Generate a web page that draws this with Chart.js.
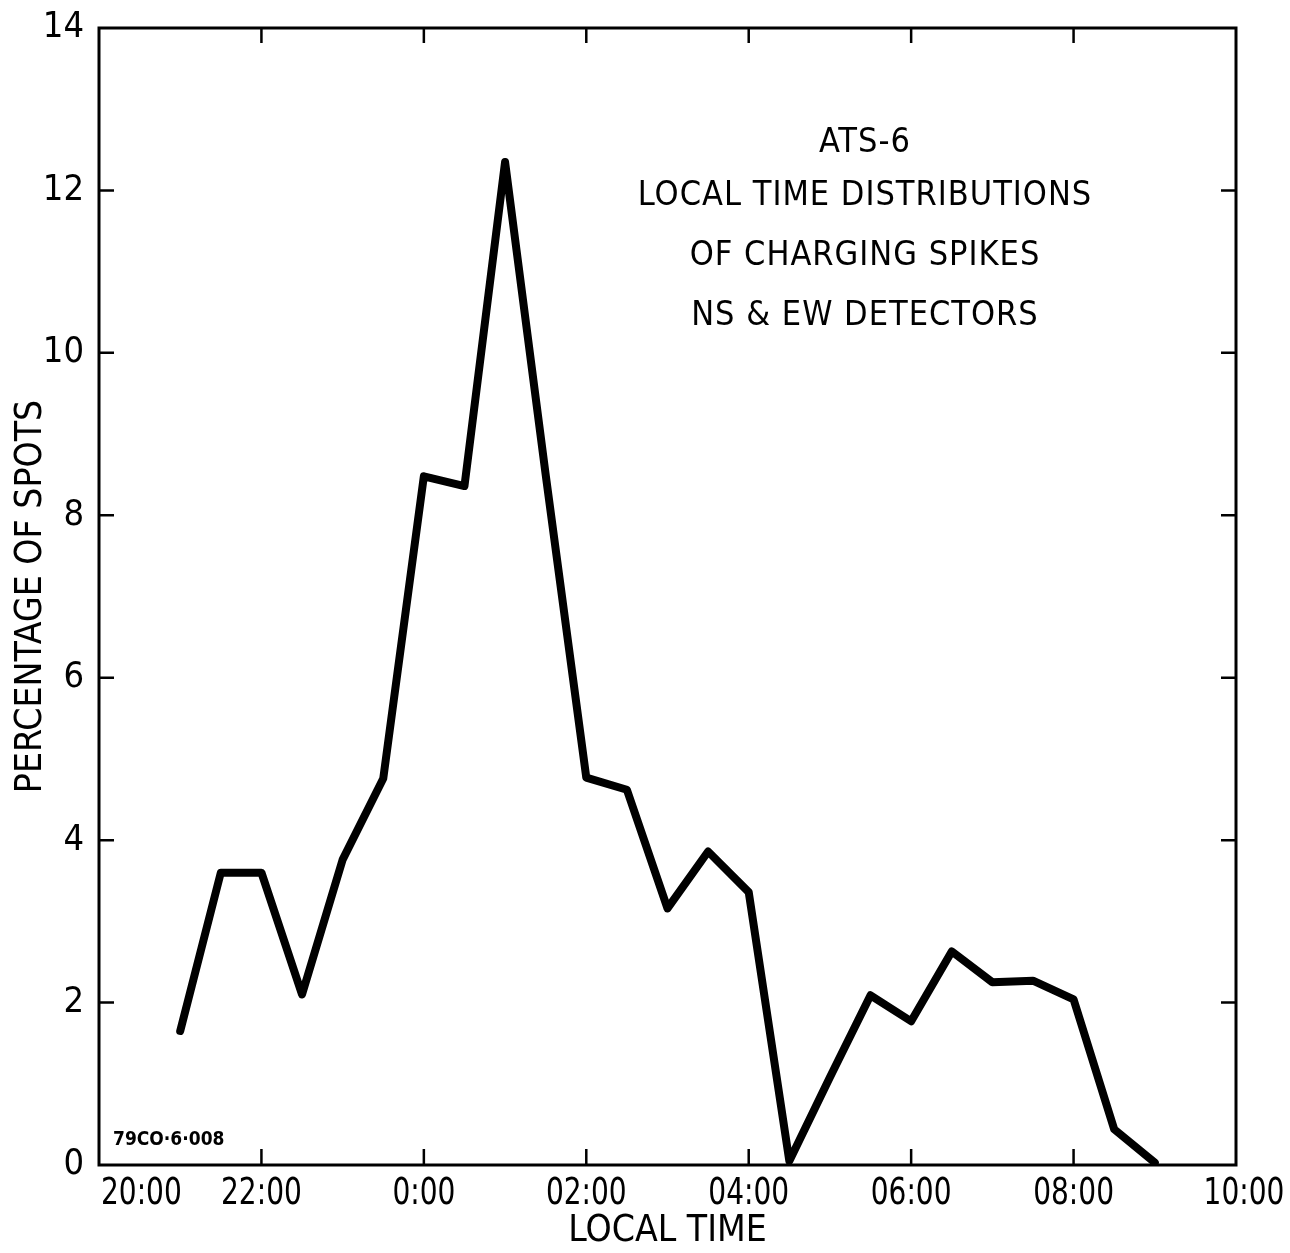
<!DOCTYPE html>
<html>
<head>
<meta charset="utf-8">
<script src="https://cdn.jsdelivr.net/npm/chart.js@4/dist/chart.umd.min.js"></script>
<style>
  body { margin: 0; background: #fff; }
  canvas { display: block; }
</style>
</head>
<body>
<canvas id="chartContainer" width="1290" height="1253"></canvas>
<script>
// 1: data
// x = hours after 20:00 local time, y = percentage of spots
let _hours = [1, 1.5, 2, 2.5, 3, 3.5, 4, 4.5, 5, 5.5, 6, 6.5, 7, 7.5, 8, 8.5, 9, 9.5, 10, 10.5, 11, 11.5, 12, 12.5, 13];
let _percent = [1.65, 3.6, 3.6, 2.1, 3.76, 4.76, 8.48, 8.36, 12.35, 8.5, 4.77, 4.62, 3.16, 3.86, 3.36, 0.05, 1.08, 2.09, 1.77, 2.63, 2.25, 2.27, 2.04, 0.44, 0.03];

// tick values and labels
let _xTicks = [0, 2, 4, 6, 8, 10, 12, 14];
let _xTickLabels = ['20:00', '22:00', '0:00', '02:00', '04:00', '06:00', '08:00', '10:00'];
let _yTicks = [0, 2, 4, 6, 8, 10, 12, 14];

// texts
let _notes = ['ATS-6', 'LOCAL TIME DISTRIBUTIONS', 'OF CHARGING SPIKES', 'NS & EW DETECTORS'];
let _figCode = '79CO\u00b76\u00b7008';

const FONT = '"DejaVu Sans Condensed", "DejaVu Sans", sans-serif';

// 2: prepare data for chart
function prepareData(xs, ys) {
  let points = [];
  for (let i = 0; i < xs.length; i++) {
    points.push({ x: xs[i], y: ys[i] });
  }
  return points;
}

// frame, inward ticks, x labels and the text block
const framePlugin = {
  id: 'frame',
  afterDraw(chart) {
    const ctx = chart.ctx;
    const a = chart.chartArea;
    const x = chart.scales.x;
    const y = chart.scales.y;
    ctx.save();
    ctx.strokeStyle = '#000';
    ctx.lineWidth = 3;
    ctx.strokeRect(a.left, a.top, a.right - a.left, a.bottom - a.top);

    // inward tick marks
    ctx.lineWidth = 2.5;
    ctx.beginPath();
    for (const t of _xTicks.slice(1, -1)) {
      const px = x.getPixelForValue(t);
      ctx.moveTo(px, a.bottom);
      ctx.lineTo(px, a.bottom - 16);
      ctx.moveTo(px, a.top);
      ctx.lineTo(px, a.top + 15);
    }
    for (const t of _yTicks.slice(1, -1)) {
      const py = y.getPixelForValue(t);
      ctx.moveTo(a.left, py);
      ctx.lineTo(a.left + 15, py);
      ctx.moveTo(a.right, py);
      ctx.lineTo(a.right - 15, py);
    }
    ctx.stroke();

    // x tick labels (narrow lettering)
    ctx.fillStyle = '#000';
    ctx.font = '38px ' + FONT;
    ctx.textBaseline = 'top';
    _xTicks.forEach((t, i) => {
      let px = x.getPixelForValue(t);
      if (i === 0) {
        ctx.textAlign = 'left';
        px += 2;
      } else {
        ctx.textAlign = 'center';
        if (i === _xTicks.length - 1) px += 8;
      }
      ctx.save();
      ctx.translate(px, a.bottom + 10);
      ctx.scale(0.82, 1);
      ctx.fillText(_xTickLabels[i], 0, 0);
      ctx.restore();
    });

    // text block
    ctx.font = '34px ' + FONT;
    ctx.textAlign = 'center';
    ctx.textBaseline = 'alphabetic';
    ctx.letterSpacing = '1px';
    const baselines = [152, 205, 265, 325];
    _notes.forEach((line, i) => {
      ctx.fillText(line, 865, baselines[i]);
    });

    // figure code
    ctx.letterSpacing = '0px';
    ctx.font = 'bold 19px ' + FONT;
    ctx.textAlign = 'left';
    ctx.fillText(_figCode, a.left + 14, a.bottom - 20);
    ctx.restore();
  }
};

// 3: create the chart
function appendChart() {
  let chartContainer = document.getElementById('chartContainer');
  let chart = new Chart(chartContainer, {
    type: 'line',
    data: {
      datasets: [{
        data: prepareData(_hours, _percent),
        borderColor: '#000',
        borderWidth: 8,
        borderJoinStyle: 'round',
        borderCapStyle: 'round',
        pointRadius: 0,
        tension: 0,
        fill: false
      }]
    },
    options: {
      responsive: false,
      animation: false,
      layout: { padding: { top: 28, right: 54, left: 0, bottom: 0 } },
      plugins: {
        legend: { display: false },
        tooltip: { enabled: false }
      },
      scales: {
        x: {
          type: 'linear',
          min: 0,
          max: 14,
          grid: { display: false, drawTicks: false },
          border: { display: false },
          ticks: { display: false },
          title: {
            display: true,
            text: 'LOCAL TIME',
            color: '#000',
            font: { family: FONT, size: 37, lineHeight: 1 },
            padding: { top: 0, bottom: 3 }
          },
          afterFit: s => { s.height = 88; }
        },
        y: {
          min: 0,
          max: 14,
          grid: { display: false, drawTicks: false },
          border: { display: false },
          ticks: {
            stepSize: 2,
            color: '#000',
            padding: 15,
            font: { family: FONT, size: 36 }
          },
          title: {
            display: true,
            text: 'PERCENTAGE OF SPOTS',
            color: '#000',
            font: { family: FONT, size: 37, lineHeight: 1 },
            padding: { top: 13, bottom: 0 }
          },
          afterFit: s => {
            s.width = 99;
            s.paddingTop = 0;
            s.paddingBottom = 0;
          }
        }
      }
    },
    plugins: [framePlugin]
  });
}

appendChart();
</script>
</body>
</html>
